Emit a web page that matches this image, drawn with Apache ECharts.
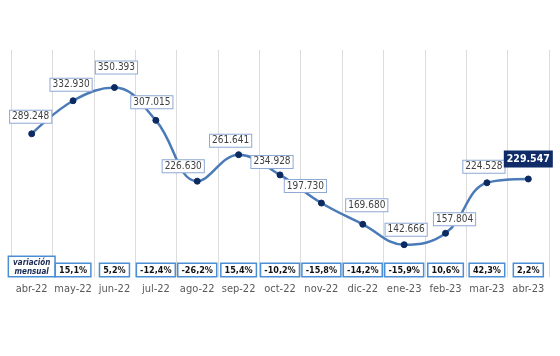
<!DOCTYPE html>
<html><head><meta charset="utf-8">
<script src="https://cdn.jsdelivr.net/npm/echarts@6/dist/echarts.min.js"></script>
<style>html,body{margin:0;padding:0;background:#fff}#c{width:560px;height:356px}</style>
</head><body><div id="c"></div>
<script>
const months = ['abr-22','may-22','jun-22','jul-22','ago-22','sep-22','oct-22','nov-22','dic-22','ene-23','feb-23','mar-23','abr-23'];
const values = [289248,332930,350393,307015,226630,261641,234928,197730,169680,142666,157804,224528,229547];
const monthlyChange = [null,15.1,5.2,-12.4,-26.2,15.4,-10.2,-15.8,-14.2,-15.9,10.6,42.3,2.2];
const changeHeader = 'variación\nmensual';
// label placement (style only)
const labelShift = [[-1,-17],[-2,-16],[2,-20],[-4,-18],[-14,-15],[-8,-14],[-8,-13],[-16,-17],[4,-19],[2,-15],[9,-14],[-3,-16],[0,-20]];

const fmtThousands = v => String(v).replace(/\B(?=(\d{3})+(?!\d))/g, '.');
const fmtPct = v => v.toFixed(1).replace('.', ',') + '%';
const FONT = "'DejaVu Sans Condensed', 'Liberation Sans', sans-serif";

const lineData = values.map((v, i) => {
  const last = i === values.length - 1;
  return {
    value: v,
    label: last ? {
      offset: labelShift[i], backgroundColor: '#0f2c68', borderColor: '#0f2c68',
      color: '#fff', fontWeight: 'bold', fontSize: 10.5, padding: [2, 2]
    } : { offset: labelShift[i] }
  };
});

const changeAxisData = monthlyChange.map((v, i) => i === 0 ? {
  value: changeHeader,
  textStyle: { fontStyle: 'italic', fontWeight: 'bold', color: '#1b2a55', fontSize: 8, lineHeight: 9,
    padding: [1, 4, 0, 4], borderWidth: 1.5, verticalAlign: 'bottom' }
} : fmtPct(v));

const chart = echarts.init(document.getElementById('c'));
chart.setOption({
  animation: false,
  backgroundColor: '#fff',
  grid: { left: 11, right: 11, top: 50, bottom: 79 },
  xAxis: [{
    type: 'category', data: months, boundaryGap: true,
    axisLine: { show: false }, axisTick: { show: false },
    splitLine: { show: true, lineStyle: { color: '#dcdcdc', width: 1 } },
    axisLabel: { interval: 0, margin: 7, color: '#595959', fontSize: 11, fontFamily: FONT, hideOverlap: false }
  }, {
    type: 'category', data: changeAxisData, position: 'bottom', boundaryGap: true,
    axisLine: { show: false }, axisTick: { show: false }, splitLine: { show: false },
    axisLabel: {
      interval: 0, margin: -1, verticalAlign: 'bottom', color: '#111', fontWeight: 'bold', fontSize: 9,
      fontFamily: FONT, backgroundColor: '#fff', borderColor: '#4a8fd6', borderWidth: 1.5, padding: [2, 3, 1, 3],
      hideOverlap: false
    }
  }],
  yAxis: { type: 'value', min: 100000, max: 400000, show: false, splitLine: { show: false } },
  series: [{
    type: 'line', data: lineData, smooth: 0.4, xAxisIndex: 0,
    lineStyle: { color: '#4a7bb8', width: 2.5 },
    symbol: 'circle', symbolSize: 6,
    itemStyle: { color: '#0b2a60', borderColor: '#0b2a60' },
    label: {
      show: true, position: 'inside', formatter: p => fmtThousands(p.value),
      fontFamily: FONT, fontSize: 10, color: '#404040', backgroundColor: '#fff',
      borderColor: '#8ea9d4', borderWidth: 1, padding: [1, 2]
    },
    z: 3
  }]
});
</script></body></html>
